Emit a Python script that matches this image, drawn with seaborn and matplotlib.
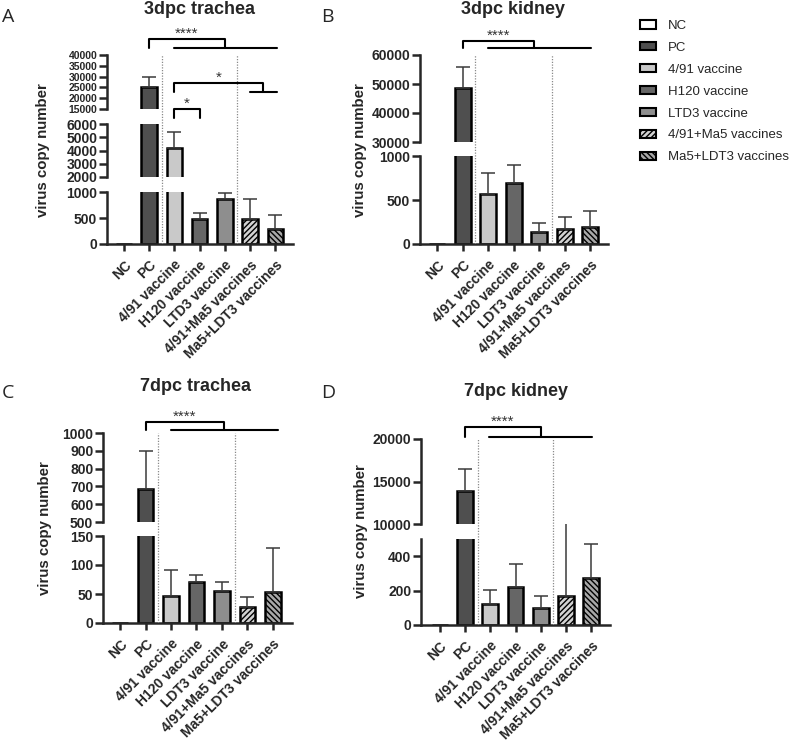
import pandas as pd
import seaborn as sns
import matplotlib.pyplot as plt
from matplotlib.patches import Patch

groups = ['NC', 'PC', '4/91 vaccine', 'H120 vaccine', 'LTD3 vaccine',
          '4/91+Ma5 vaccines', 'Ma5+LDT3 vaccines']
ticks_a = ['NC', 'PC', '4/91 vaccine', 'H120 vaccine', 'LTD3 vaccine',
           '4/91+Ma5 vaccines', 'Ma5+LDT3 vaccines']
ticks_bcd = ['NC', 'PC', '4/91 vaccine', 'H120 vaccine', 'LDT3 vaccine',
             '4/91+Ma5 vaccines', 'Ma5+LDT3 vaccines']

# mean and SD (upper error only)
tr3_mean = [0, 25000, 4200, 475, 865, 475, 295]
tr3_sd = [0, 5000, 1170, 115, 110, 390, 270]
kd3_mean = [0, 48500, 570, 690, 140, 170, 197]
kd3_sd = [0, 7500, 233, 204, 95, 133, 181]
tr7_mean = [0, 685, 46, 71, 56, 27, 54]
tr7_sd = [0, 215, 46, 11, 14, 17, 75]
kd7_mean = [0, 13900, 125, 221, 101, 169, 276]
kd7_sd = [0, 2600, 77, 136, 70, 470, 193]

colors = ['#ffffff', '#4f4f4f', '#c9c9c9', '#666666', '#8e8e8e', '#d2d2d2', '#a8a8a8']
hatches = ['', '', '', '', '', '//////', '\\\\\\\\\\\\']

W, H = 791, 742
sns.set_style('ticks')
plt.rcParams['font.family'] = ['Liberation Sans', 'DejaVu Sans']
plt.rcParams['hatch.linewidth'] = 1.0

fig = plt.figure(figsize=(W / 100, H / 100), dpi=100)


def px_axes(x0, x1, ytop, ybot):
    return fig.add_axes([x0 / W, 1 - ybot / H, (x1 - x0) / W, (ybot - ytop) / H])


def panel(means, sds, ticklabels, xpx, xlim, segs, brackets):
    df = pd.DataFrame({'group': groups, 'value': means})
    for k, (ytop, ybot, lo, hi, yt) in enumerate(segs):
        ax = px_axes(xpx[0], xpx[1], ytop, ybot)
        sns.barplot(data=df, x='group', y='value', hue='group', order=groups,
                    hue_order=groups, palette=colors, legend=False, width=0.62,
                    edgecolor='black', linewidth=1.8, errorbar=None, ax=ax)
        for p, h in zip(ax.patches, hatches):
            p.set_hatch(h)
        for i, (m, s) in enumerate(zip(means, sds)):
            if s > 0 and lo <= m <= hi:
                ax.errorbar(i, m, yerr=[[0], [s]], fmt='none', ecolor='#3a3a3a',
                            elinewidth=1.1, capsize=5, capthick=1.1,
                            clip_on=False, zorder=3)
        ax.set_xlim(xlim)
        ax.set_ylim(lo, hi)
        ax.set_yticks(yt)
        # crowded segments get a slightly smaller font
        fs = 10 if (ybot - ytop) / (len(yt) - 1) > 12 else 7.5
        ax.set_yticklabels([str(v) for v in yt], fontweight='bold', fontsize=fs)
        ax.set_xlabel('')
        ax.set_ylabel('')
        ax.tick_params(axis='y', left=True, length=6, width=1.8, pad=1)
        sns.despine(ax=ax, bottom=(k != 0))
        for sp in ax.spines.values():
            sp.set_linewidth(1.8)
        if k == 0:
            ax.set_xticks(range(len(groups)))
            ax.set_xticklabels(ticklabels, rotation=45, ha='right',
                               rotation_mode='anchor', fontweight='bold', fontsize=10)
            ax.tick_params(axis='x', bottom=True, length=5, width=1.8, pad=5)
        else:
            ax.set_xticks([])

    top, bot = segs[-1][0], segs[0][1]
    ov = px_axes(xpx[0], xpx[1], top, bot)
    ov.set_xlim(xlim)
    ov.set_ylim(0, 1)
    ov.axis('off')
    for xv in (1.5, 4.5):
        ov.axvline(xv, color='#8a8a8a', ls=(0, (1, 1.2)), lw=0.9)
    span = bot - top
    for x1, x2, yl, yg, txt, sub in brackets:
        fl = (bot - yl) / span
        fg = (bot - yg) / span
        ov.plot([x1, x1, x2, x2], [fg, fl, fl, fg], color='black', lw=1.5, clip_on=False)
        if sub:
            ov.plot(sub, [fg, fg], color='black', lw=1.5, clip_on=False)
        ov.text((x1 + x2) / 2, fl + 1.5 / span, txt, ha='center', va='baseline',
                fontsize=11, color='#333333', clip_on=False)


panel(tr3_mean, tr3_sd, ticks_a, (107, 293), (-0.67, 6.7),
      [(192, 244, 0, 1000, [0, 500, 1000]),
       (124, 177, 2000, 6000, [2000, 3000, 4000, 5000, 6000]),
       (55, 109, 15000, 40000, [15000, 20000, 25000, 30000, 35000, 40000])],
      [(1, 4, 39, 48, '****', (2, 6.05)),
       (2, 5.5, 83, 92, '*', (5, 6.05)),
       (2, 3, 109, 118, '*', None)])

panel(kd3_mean, kd3_sd, ticks_bcd, (420, 608), (-0.67, 6.7),
      [(156, 244, 0, 1000, [0, 500, 1000]),
       (55, 142, 30000, 60000, [30000, 40000, 50000, 60000])],
      [(1, 3.8, 41, 48, '****', (2, 6.05))])

panel(tr7_mean, tr7_sd, ticks_bcd, (103, 292), (-0.67, 6.75),
      [(536, 623, 0, 150, [0, 50, 100, 150]),
       (433, 522, 500, 1000, [500, 600, 700, 800, 900, 1000])],
      [(1, 4.1, 422, 430, '****', (2, 6.2))])

panel(kd7_mean, kd7_sd, ticks_bcd, (421, 610), (-0.75, 6.75),
      [(539, 625, 0, 500, [0, 200, 400]),
       (439, 524, 10000, 20000, [10000, 15000, 20000])],
      [(1, 4, 427, 437, '****', (1.95, 6.05))])

titles = [('3dpc trachea', 200, 14), ('3dpc kidney', 513, 14),
          ('7dpc trachea', 196, 391), ('7dpc kidney', 516, 396)]
for t, cx, by in titles:
    fig.text(cx / W, 1 - by / H, t, ha='center', va='baseline',
             fontweight='bold', fontsize=13)

for letter, lx, by in [('A', 2, 22), ('B', 321, 22), ('C', 2, 398), ('D', 321, 398)]:
    fig.text(lx / W, 1 - by / H, letter, ha='left', va='baseline', fontsize=14,
             family=['Open Sans', 'DejaVu Sans'])

for cx, cy in [(43, 150), (360, 150), (45, 528), (361, 531)]:
    fig.text(cx / W, 1 - cy / H, 'virus copy number', rotation=90, ha='center',
             va='center', fontweight='bold', fontsize=10.8)

handles = [Patch(facecolor=c, edgecolor='black', hatch=h, linewidth=1.5)
           for c, h in zip(colors, hatches)]
fig.legend(handles, groups, loc='upper left', bbox_to_anchor=(640 / W, 1 - 20 / H),
           frameon=False, fontsize=9.5, handlelength=1.2, handleheight=0.6,
           labelspacing=0.75, handletextpad=0.9, borderpad=0, borderaxespad=0)

fig.savefig('out.png', dpi=100)
